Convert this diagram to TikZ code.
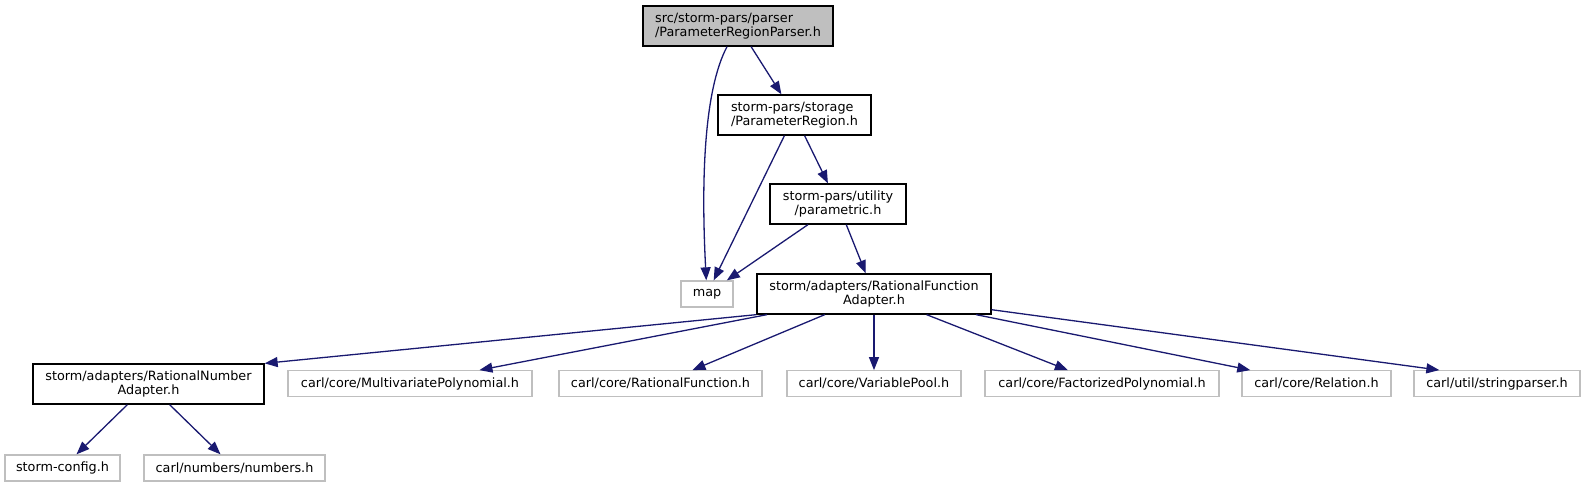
\documentclass[tikz,border=0pt]{standalone}
\usepackage{fontspec}
\setmainfont{DejaVu Sans}
\usetikzlibrary{arrows.meta, calc}
\definecolor{incblue}{HTML}{191970}
\definecolor{incgrey}{HTML}{BFBFBF}
\tikzset{
  >={Triangle[length=13pt, width=10pt]},
  inc edge/.style={draw=incblue, ->, line width=1.3pt},
  inc file/.style={draw=black, fill=white, inner sep=0pt, line width=1.3pt,
    minimum height=40pt},
  inc root/.style={inc file, fill=incgrey},
  inc ext/.style={draw=incgrey, fill=white, inner sep=0pt, line width=1.3pt,
    minimum height=25.5pt},
}

\begin{document}
\begin{tikzpicture}[x=1pt, y=-1pt, font=\fontsize{12.8}{14.5}\selectfont]
 \useasboundingbox (0,0) rectangle (1584,484);
 \node[inc root, minimum width=190pt, align=left] (parser) at (738,26)
   {src/storm-pars/parser\\/ParameterRegionParser.h};
 \node[inc file, minimum width=153pt, align=left] (region) at (794.5,115)
   {storm-pars/storage\\/ParameterRegion.h};
 \node[inc file, minimum width=136pt, align=center] (parametric) at (838,204)
   {storm-pars/utility\\/parametric.h};
 \node[inc ext, minimum width=52pt, minimum height=26pt] (map) at (707,294) {map};
 \node[inc file, minimum width=234pt, align=center] (rfa) at (874,294)
   {storm/adapters/RationalFunction\\Adapter.h};
 \node[inc file, minimum width=231pt, align=center] (rna) at (148.5,384)
   {storm/adapters/RationalNumber\\Adapter.h};
 \node[inc ext, minimum width=244pt] (multipoly) at (410,383.5) {carl/core/MultivariatePolynomial.h};
 \node[inc ext, minimum width=203pt] (ratfunc) at (660.5,383.5) {carl/core/RationalFunction.h};
 \node[inc ext, minimum width=174pt] (varpool) at (874,383.5) {carl/core/VariablePool.h};
 \node[inc ext, minimum width=234pt] (factpoly) at (1102,383.5) {carl/core/FactorizedPolynomial.h};
 \node[inc ext, minimum width=149pt] (relation) at (1316.5,383.5) {carl/core/Relation.h};
 \node[inc ext, minimum width=166pt] (strparser) at (1497,383.5) {carl/util/stringparser.h};
 \node[inc ext, minimum width=115pt, minimum height=26pt] (config) at (62.5,468) {storm-config.h};
 \node[inc ext, minimum width=181pt, minimum height=26pt] (numbers) at (234.5,468) {carl/numbers/numbers.h};
 \draw[inc edge] (parser) .. controls (704,90) and (701,180) .. (map);
 \draw[inc edge] (parser) -- (region);
 \draw[inc edge] (region) -- (map);
 \draw[inc edge] (region) -- (parametric);
 \draw[inc edge] (parametric) -- (map);
 \draw[inc edge] (parametric) -- (rfa);
 \draw[inc edge] (rfa.south west) -- (rna.north east);
 \draw[inc edge] (rfa) -- (multipoly);
 \draw[inc edge] (rfa) -- (ratfunc);
 \draw[inc edge] (rfa) -- (varpool);
 \draw[inc edge] (rfa) -- (factpoly);
 \draw[inc edge] (rfa) -- (relation);
 \draw[inc edge] (rfa) -- ([xshift=26pt]strparser.north west);
 \draw[inc edge] (rna) -- (config);
 \draw[inc edge] (rna) -- (numbers);
\end{tikzpicture}
\end{document}
